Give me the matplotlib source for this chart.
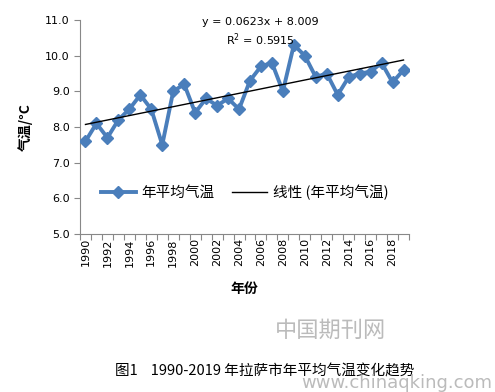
import numpy as np
import matplotlib
matplotlib.use("Agg")
import matplotlib.pyplot as plt

plt.rcParams['font.family'] = ['DejaVu Sans', 'Noto Sans CJK SC']

# 1990-2019 拉萨市年平均气温
years = list(range(1990, 2020))
temps = [7.6, 8.1, 7.7, 8.2, 8.5, 8.9, 8.5, 7.5, 9.0, 9.2,
         8.4, 8.8, 8.6, 8.8, 8.5, 9.3, 9.7, 9.8, 9.0, 10.3,
         10.0, 9.4, 9.5, 8.9, 9.4, 9.5, 9.55, 9.8, 9.25, 9.6]
slope = 0.0623
intercept = 8.009
r2 = 0.5915
yticks = [5.0, 6.0, 7.0, 8.0, 9.0, 10.0, 11.0]

blue = '#4a7ebb'
cjk = ['Noto Sans CJK SC', 'DejaVu Sans']

fig = plt.figure(figsize=(4.95, 3.92), dpi=100)
ax = fig.add_axes([80 / 495, 1 - 234 / 392, 329 / 495, 214 / 392])

idx = np.arange(1, len(years) + 1)
trend = slope * idx + intercept

ax.plot(idx, temps, color=blue, lw=2.8, marker='D', ms=6.5,
        label='年平均气温', zorder=3)
ax.plot(idx, trend, color='black', lw=1.0, label='线性 (年平均气温)', zorder=4)

ax.set_xlim(0.5, len(years) + 0.5)
ax.set_ylim(5.0, 11.0)
ax.set_yticks(yticks)
ax.set_yticklabels([f'{v:.1f}' for v in yticks], fontsize=8)

# category axis: ticks between categories, labels every other year
ax.set_xticks(np.arange(0.5, len(years) + 1, 1.0))
ax.set_xticklabels([])
ax.set_xticks(idx[::2], minor=True)
ax.set_xticklabels([str(y) for y in years[::2]], minor=True,
                   rotation=90, fontsize=8)
ax.tick_params(axis='x', which='minor', length=0, pad=3)
ax.tick_params(axis='x', which='major', length=4, color='#888888')
ax.tick_params(axis='y', length=4, color='#888888')

for s in ['top', 'right']:
    ax.spines[s].set_visible(False)
for s in ['left', 'bottom']:
    ax.spines[s].set_color('#888888')

ax.set_ylabel('气温/°C', fontsize=10, fontweight='bold', family=cjk, labelpad=9)
ax.set_xlabel('年份', fontsize=10, fontweight='bold', family=cjk, labelpad=11)

ax.text(0.547, 0.99, f'y = {slope}x + {intercept}', transform=ax.transAxes,
        ha='center', va='center', fontsize=8)
ax.text(0.547, 0.907, f'R$^2$ = {r2}', transform=ax.transAxes,
        ha='center', va='center', fontsize=8)

leg = ax.legend(loc='center', bbox_to_anchor=(0.5, 0.195), ncol=2, frameon=False,
                prop={'family': cjk, 'size': 10.5}, handlelength=2.4,
                handletextpad=0.4, columnspacing=1.2)

fig.text(0.535, 1 - 371 / 392, '图1    1990-2019 年拉萨市年平均气温变化趋势',
         ha='center', va='center', fontsize=10.5, family=cjk)
fig.text(0.667, 1 - 330 / 392, '中国期刊网', ha='center', va='center',
         fontsize=16, color='#bbbbbb', family=cjk)
fig.text(0.995, 1 - 383 / 392, 'www.chinaqking.com', ha='right', va='center',
         fontsize=13, color='#aaaaaa', alpha=0.8)

fig.savefig('out.png', dpi=100)
